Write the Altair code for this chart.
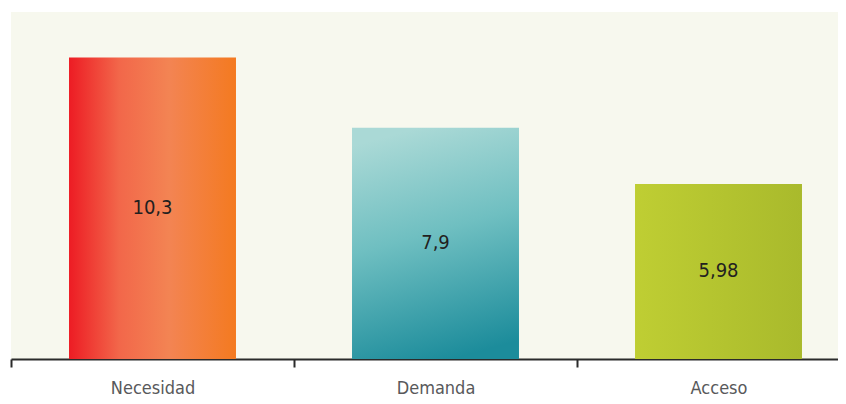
import altair as alt
import pandas as pd

categories = ["Necesidad", "Demanda", "Acceso"]
values = [10.3, 7.9, 5.98]
labels = ["10,3", "7,9", "5,98"]

df = pd.DataFrame({"cat": categories, "value": values, "label": labels})

FONT = "DejaVu Sans Condensed, Liberation Sans Narrow, Roboto, sans-serif"

xenc = alt.X(
    "cat:N",
    sort=categories,
    title=None,
    scale=alt.Scale(range=[0, 849], paddingInner=0, paddingOuter=0),
    axis=alt.Axis(
        labelAngle=0,
        tickBand="extent",
        tickSize=8,
        tickWidth=2,
        tickColor="#2b2b2b",
        domainColor="#2b2b2b",
        domainWidth=2,
        labelFont=FONT,
        labelFontSize=18,
        labelColor="#58595b",
        labelPadding=12,
    ),
)
yscale = alt.Scale(domain=[0, 11.85], nice=False)
yenc = alt.Y("value:Q", scale=yscale, axis=None)

grad_nec = alt.Gradient(
    gradient="linear",
    stops=[
        alt.GradientStop(color="#ed1c24", offset=0),
        alt.GradientStop(color="#f2674a", offset=0.3),
        alt.GradientStop(color="#f38453", offset=0.6),
        alt.GradientStop(color="#f47a20", offset=1),
    ],
    x1=0, x2=1, y1=0, y2=0,
)
grad_dem = alt.Gradient(
    gradient="linear",
    stops=[
        alt.GradientStop(color="#aad9d6", offset=0),
        alt.GradientStop(color="#6fbfc1", offset=0.45),
        alt.GradientStop(color="#1c8c9b", offset=1),
    ],
    x1=0.4, x2=0.6, y1=0, y2=1,
)
grad_acc = alt.Gradient(
    gradient="linear",
    stops=[
        alt.GradientStop(color="#bfce33", offset=0),
        alt.GradientStop(color="#a9ba2c", offset=1),
    ],
    x1=0, x2=1, y1=0, y2=0,
)

base = alt.Chart(df)
layers = []
for cat, g in zip(categories, [grad_nec, grad_dem, grad_acc]):
    layers.append(
        base.transform_filter(alt.datum.cat == cat)
        .mark_bar(color=g, width=alt.RelativeBandSize(0.59))
        .encode(x=xenc, y=yenc)
    )

text = (
    base.transform_calculate(mid="datum.value / 2")
    .mark_text(
        font=FONT,
        fontSize=20,
        color="#231f20",
        align="center",
        baseline="middle",
    )
    .encode(x=xenc, y=alt.Y("mid:Q", scale=yscale, axis=None), text="label:N")
)

chart = (
    alt.layer(*layers, text)
    .properties(
        width=827,
        height=347,
        autosize=alt.AutoSizeParams(type="none"),
        padding={"left": 3, "top": 4, "right": 0, "bottom": 37},
        background="white",
    )
    .configure_view(stroke=None, fill="#f7f8ee")
)

chart.save("out.html", embed_options={"renderer": "svg", "actions": False})
